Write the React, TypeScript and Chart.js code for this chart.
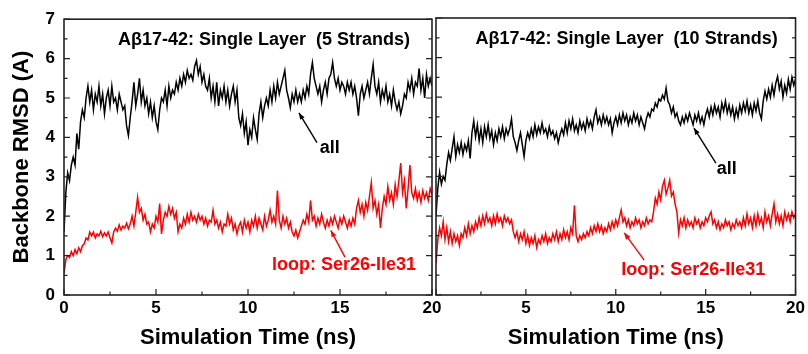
import React, { useEffect, useRef } from 'react';
import { Chart, registerables } from 'chart.js';

Chart.register(...registerables);

// ---------- data ----------
const TIME_STEP = 0.1; // ns between samples
const X_TICKS = [0, 5, 10, 15, 20];
const Y_TICKS = [0, 1, 2, 3, 4, 5, 6, 7];

const LEFT_TITLE = 'A\u03B217-42: Single Layer  (5 Strands)';
const RIGHT_TITLE = 'A\u03B217-42: Single Layer  (10 Strands)';
const X_TITLE = 'Simulation Time (ns)';
const Y_TITLE = 'Backbone RMSD (A)';
const LABEL_ALL = 'all';
const LABEL_LOOP = 'loop: Ser26-Ile31';

// 5 strands, all backbone
const LEFT_ALL = [
  1.6, 2.6, 3.1, 2.9, 3.3, 3.5, 3.3, 4.1, 3.7, 4.4,
  4.7, 4.5, 5.0, 5.3, 4.9, 5.2, 4.7, 5.1, 4.9, 5.3,
  4.8, 5.1, 4.6, 5.0, 5.2, 4.8, 5.3, 4.9, 5.0, 4.7,
  5.1, 4.9, 4.7, 4.8, 4.3, 4.05, 4.5, 4.9, 5.4, 4.8,
  5.1, 5.5, 4.9, 5.2, 4.8, 5.0, 4.6, 4.9, 4.5, 4.8,
  4.4, 4.2, 4.7, 5.0, 4.9, 5.2, 4.8, 5.3, 5.0, 5.2,
  5.1, 5.4, 5.2, 5.5, 5.3, 5.6, 5.4, 5.7, 5.5, 5.6,
  5.45, 5.8, 5.95, 5.6, 5.8, 5.4, 5.6, 5.3, 5.2, 5.5,
  5.0, 5.3, 4.9, 5.4, 4.8, 5.2, 5.0, 5.3, 4.9, 5.2,
  4.8, 5.1, 5.3, 4.9, 5.2, 4.5, 4.3, 4.6, 4.1, 4.4,
  3.8, 4.2, 4.0, 4.5, 4.2, 3.95, 4.6, 4.9, 4.5, 4.8,
  5.0, 4.8, 5.2, 4.9, 5.3, 5.0, 5.4, 5.1, 5.3, 5.5,
  5.7, 5.2, 5.0, 4.75, 5.1, 4.9, 5.2, 4.9, 5.1, 4.9,
  5.2, 5.0, 5.3, 5.1, 5.6, 5.9, 5.5, 5.3, 5.1, 5.3,
  4.9, 5.2, 5.4, 5.1, 5.5, 5.6, 5.9, 5.5, 5.3, 5.5,
  5.2, 5.4, 5.3, 5.1, 5.4, 5.2, 5.4, 5.1, 5.3, 5.0,
  4.55, 5.1, 5.3, 5.0, 5.2, 5.4, 5.1, 5.5, 5.85, 5.3,
  5.1, 5.4, 4.9, 5.2, 5.0, 5.3, 4.9, 5.1, 4.8, 5.2,
  4.9, 4.7, 4.9, 4.6, 4.8, 5.1, 5.0, 5.4, 5.2, 5.5,
  5.1, 5.4, 5.3, 5.75, 5.2, 5.5, 5.0, 5.6, 5.3, 5.5,
  5.3,
];

// 5 strands, loop Ser26-Ile31
const LEFT_LOOP = [
  0.55, 0.9, 1.0, 0.95, 1.1, 1.0, 1.15, 1.05, 1.2, 1.1,
  1.25, 1.3, 1.45, 1.4, 1.6, 1.5, 1.6, 1.45, 1.55, 1.5,
  1.62, 1.48, 1.58, 1.5, 1.6, 1.45, 1.32, 1.6, 1.7, 1.62,
  1.78, 1.65, 1.75, 1.7, 1.82, 1.68, 1.8, 2.0, 1.75, 2.1,
  2.48, 2.1, 2.2, 1.9, 2.05, 1.8, 1.85, 1.6, 1.8, 1.7,
  2.0, 1.85, 2.32, 1.55, 1.9, 2.1, 2.0, 2.25, 2.05, 2.2,
  1.95, 2.1, 1.6, 1.8, 1.7, 1.95, 1.8, 2.05, 1.85, 2.1,
  1.9, 2.0, 1.85, 2.05, 1.9, 2.0, 1.8, 1.95, 1.75, 1.9,
  1.85, 2.15, 1.8, 1.9, 1.7, 1.85, 1.6, 1.8, 1.75, 2.05,
  1.8, 1.95, 1.65, 1.8, 1.55, 1.75, 1.85, 1.6, 1.9, 1.7,
  1.85, 1.6, 1.9, 1.75, 2.0, 1.7, 1.95, 1.8, 1.65, 2.0,
  1.75, 1.9, 2.15, 1.85, 2.0, 1.8, 2.65, 1.9, 1.7, 2.0,
  1.8, 1.95, 1.7, 1.85, 1.6, 1.5, 1.65, 1.45, 1.6, 1.75,
  1.9, 1.8, 2.05, 1.85, 2.4, 1.9, 2.0, 1.75, 1.95, 1.8,
  2.05, 1.85, 1.7, 1.9, 1.75, 1.95, 1.8, 2.0, 1.85, 1.7,
  1.95, 1.8, 2.0, 1.85, 1.7, 1.9, 1.75, 1.95, 1.8, 2.2,
  2.4, 2.1, 2.3, 2.0, 2.35, 2.15, 2.5, 2.85, 2.2, 2.4,
  2.05, 2.3, 1.7, 2.2, 2.5, 2.3, 2.75, 2.4, 2.6, 2.3,
  2.8, 2.5, 2.9, 3.35, 2.6, 2.9, 2.2, 2.7, 3.3, 2.6,
  2.45, 2.7, 2.4, 2.6, 2.35, 2.65, 2.45, 2.6, 2.4, 2.7,
  2.55,
];

// 10 strands, all backbone
const RIGHT_ALL = [
  2.0, 2.7, 3.1, 2.8, 3.0, 2.9, 3.3, 3.6, 3.4, 3.7,
  4.0, 3.5, 3.8, 3.6, 3.85, 3.55, 3.8, 3.65, 3.9, 3.45,
  4.1, 4.4, 4.0, 4.3, 3.9, 4.2, 3.85, 4.25, 4.0, 4.3,
  3.95, 4.15, 3.8, 4.1, 3.9, 4.2, 4.0, 4.25, 3.95, 4.2,
  4.05, 4.2, 4.45, 4.0, 3.85, 3.65, 3.9, 4.1, 3.8, 3.5,
  3.9, 4.1, 3.95, 4.2, 4.0, 4.3, 4.05, 4.25, 4.1, 4.35,
  4.1, 4.2, 4.0, 4.25, 4.05, 4.15, 3.95, 4.1, 3.85, 4.05,
  4.2, 4.05, 4.35, 4.1, 4.4, 4.2, 4.45, 4.15, 4.3, 4.1,
  4.4, 4.2, 4.35, 4.15, 4.45, 4.25, 4.4, 4.2, 4.5, 4.68,
  4.35, 4.5, 4.3, 4.55, 4.35, 4.5, 4.3, 4.45, 4.1, 4.35,
  4.5, 4.3, 4.55, 4.35, 4.6, 4.4, 4.55, 4.3, 4.5, 4.35,
  4.6, 4.4, 4.55, 4.3, 4.5, 4.35, 4.2, 4.45, 4.6, 4.5,
  4.7, 4.65, 4.85, 4.75, 4.95, 4.9, 5.05, 4.95, 5.23, 4.9,
  4.8, 4.6, 4.75, 4.5, 4.6, 4.4, 4.3, 4.5, 4.35, 4.55,
  4.4, 4.6, 4.45, 4.3, 4.55, 4.4, 4.6, 4.35, 4.5, 4.3,
  4.55, 4.7, 4.5, 4.75, 4.55, 4.8, 4.6, 4.75, 4.5, 4.85,
  4.65, 4.9, 4.6, 4.8, 4.55, 4.75, 4.45, 4.7, 4.5, 4.8,
  4.6, 4.85, 4.65, 4.9, 4.6, 4.8, 4.55, 4.85, 4.65, 4.9,
  4.6, 4.45, 4.9, 5.15, 4.95, 5.2, 5.0, 5.3, 5.05, 5.35,
  5.52, 5.2, 5.4, 5.0, 5.3, 5.1, 5.45, 5.2, 5.5, 5.3,
  5.45,
];

// 10 strands, loop Ser26-Ile31
const RIGHT_LOOP = [
  0.8, 1.4, 1.7, 1.5, 1.85, 1.4, 1.7, 1.35, 1.6, 1.3,
  1.55, 1.35, 1.5, 1.25, 1.55, 1.45, 1.7, 1.5, 1.8, 1.55,
  1.75, 1.6, 1.85, 1.7, 1.95, 1.75, 2.0, 1.8, 2.05, 1.85,
  1.95, 1.75, 2.0, 1.8, 2.05, 1.85, 1.95, 1.75, 2.0, 1.85,
  1.95, 1.8, 1.9, 1.6, 1.45, 1.6, 1.35, 1.55, 1.4, 1.6,
  1.3, 1.5, 1.25, 1.45, 1.3, 1.5, 1.2, 1.4, 1.3, 1.5,
  1.35, 1.55, 1.3, 1.45, 1.35, 1.55, 1.4, 1.6, 1.35, 1.55,
  1.4, 1.65, 1.45, 1.6, 1.4, 1.7, 1.55, 2.27, 1.5, 1.35,
  1.5, 1.4, 1.55, 1.45, 1.6, 1.5, 1.7, 1.55, 1.75, 1.6,
  1.8, 1.6, 1.75, 1.55, 1.7, 1.6, 1.8, 1.65, 1.85, 1.7,
  1.9, 1.75, 1.95, 2.15, 1.85, 1.95, 1.75, 1.9, 1.7, 1.85,
  1.75, 1.95, 1.8, 1.9, 1.7, 1.85, 1.75, 1.95, 1.8, 1.9,
  1.85, 2.1, 2.45, 2.3, 2.6, 2.4, 2.75, 2.9, 2.55, 2.7,
  2.9, 2.5, 2.6, 2.3, 2.1, 1.57, 1.9, 1.75, 1.95, 1.7,
  1.9, 1.75, 1.85, 1.7, 1.95, 1.8, 1.9, 1.7, 1.85, 1.75,
  1.95, 1.85, 2.0, 2.1, 1.8, 1.9, 1.7, 1.85, 1.65, 1.8,
  1.7, 1.9, 1.75, 1.85, 1.65, 1.8, 1.7, 1.9, 1.75, 1.85,
  1.7, 1.95, 1.75, 2.05, 1.8, 1.95, 1.7, 2.0, 1.75, 2.05,
  1.8, 1.95, 1.7, 2.1, 1.85, 2.0, 1.75, 2.05, 2.3, 1.85,
  2.05, 1.8, 2.0, 1.75, 2.1, 1.9, 2.05, 1.85, 2.1, 1.95,
  2.05,
];

// ---------- styling ----------
const FONT = '"Liberation Sans", Arial, Helvetica, sans-serif';
const BLACK = '#000000';
const RED = '#ff0000';
const FRAME = '#222222';

type Annot = { text: string; color: string; tip: [number, number]; tail: [number, number]; at: [number, number] };

const toPoints = (arr: number[]) => arr.map((v, i) => ({ x: +(i * TIME_STEP).toFixed(2), y: v }));

const decorPlugin = {
  id: 'decor',
  afterDatasetsDraw(chart: any, _args: any, opts: any) {
    const { ctx, chartArea: a, scales } = chart;
    const xs = scales.x;
    const ys = scales.y;
    ctx.save();
    // frame
    ctx.strokeStyle = FRAME;
    ctx.lineWidth = 1.6;
    ctx.strokeRect(a.left, a.top, a.right - a.left, a.bottom - a.top);
    // inward ticks
    ctx.lineWidth = 1.2;
    ctx.beginPath();
    for (let i = 0; i < Y_TICKS.length; i++) {
      const py = ys.getPixelForValue(Y_TICKS[i]);
      ctx.moveTo(a.left, py); ctx.lineTo(a.left + 6, py);
      ctx.moveTo(a.right, py); ctx.lineTo(a.right - 6, py);
      if (i < Y_TICKS.length - 1) {
        const pm = ys.getPixelForValue((Y_TICKS[i] + Y_TICKS[i + 1]) / 2);
        ctx.moveTo(a.left, pm); ctx.lineTo(a.left + 3.5, pm);
        ctx.moveTo(a.right, pm); ctx.lineTo(a.right - 3.5, pm);
      }
    }
    for (let i = 0; i < X_TICKS.length; i++) {
      const px = xs.getPixelForValue(X_TICKS[i]);
      ctx.moveTo(px, a.bottom); ctx.lineTo(px, a.bottom - 6);
      if (i < X_TICKS.length - 1) {
        const pm = xs.getPixelForValue((X_TICKS[i] + X_TICKS[i + 1]) / 2);
        ctx.moveTo(pm, a.bottom); ctx.lineTo(pm, a.bottom - 3.5);
      }
    }
    ctx.stroke();

    // panel title
    ctx.font = `bold 18px ${FONT}`;
    ctx.fillStyle = BLACK;
    ctx.textAlign = 'left';
    ctx.textBaseline = 'middle';
    ctx.fillText(opts.title, xs.getPixelForValue(opts.titleAt[0]), ys.getPixelForValue(opts.titleAt[1]));

    // annotations
    (opts.annots as Annot[]).forEach((an) => {
      const x1 = xs.getPixelForValue(an.tip[0]);
      const y1 = ys.getPixelForValue(an.tip[1]);
      const x2 = xs.getPixelForValue(an.tail[0]);
      const y2 = ys.getPixelForValue(an.tail[1]);
      ctx.strokeStyle = an.color;
      ctx.fillStyle = an.color;
      ctx.lineWidth = 1.4;
      ctx.beginPath();
      ctx.moveTo(x1, y1);
      ctx.lineTo(x2, y2);
      ctx.stroke();
      const ang = Math.atan2(y2 - y1, x2 - x1);
      const hl = 7, hw = 0.38;
      ctx.beginPath();
      ctx.moveTo(x1, y1);
      ctx.lineTo(x1 + hl * Math.cos(ang - hw), y1 + hl * Math.sin(ang - hw));
      ctx.lineTo(x1 + hl * Math.cos(ang + hw), y1 + hl * Math.sin(ang + hw));
      ctx.closePath();
      ctx.fill();
      ctx.font = `bold 18px ${FONT}`;
      ctx.textAlign = 'left';
      ctx.textBaseline = 'middle';
      ctx.fillText(an.text, xs.getPixelForValue(an.at[0]), ys.getPixelForValue(an.at[1]));
    });
    ctx.restore();
  },
};

type PanelProps = {
  all: number[];
  loop: number[];
  title: string;
  titleAt: [number, number];
  annots: Annot[];
  showY: boolean;
  yWidth: number;
  padRight: number;
  hideZero: boolean;
  left: number;
  width: number;
};

function Panel(p: PanelProps) {
  const ref = useRef<HTMLCanvasElement | null>(null);
  useEffect(() => {
    if (!ref.current) return;
    const tickFont = { family: FONT, size: 17, weight: 'bold' as const };
    const titleFont = { family: FONT, size: 22, weight: 'bold' as const };
    const chart = new Chart(ref.current, {
      type: 'line',
      data: {
        datasets: [
          { data: toPoints(p.all), borderColor: BLACK, borderWidth: 1.5, pointRadius: 0, tension: 0, fill: false },
          { data: toPoints(p.loop), borderColor: RED, borderWidth: 1.5, pointRadius: 0, tension: 0, fill: false },
        ],
      },
      plugins: [decorPlugin],
      options: {
        animation: false,
        responsive: false,
        maintainAspectRatio: false,
        events: [],
        layout: { padding: { top: 18, right: p.padRight, bottom: 0, left: 0 } },
        plugins: {
          legend: { display: false },
          tooltip: { enabled: false },
          decor: { title: p.title, titleAt: p.titleAt, annots: p.annots },
        } as any,
        scales: {
          x: {
            type: 'linear',
            min: 0,
            max: 20,
            afterBuildTicks: (s: any) => { s.ticks = X_TICKS.map((v) => ({ value: v })); },
            ticks: {
              autoSkip: false,
              maxRotation: 0,
              padding: 3,
              color: BLACK,
              font: tickFont,
              callback: (v: any) => (p.hideZero && Number(v) === 0 ? '' : String(v)),
            },
            grid: { display: false, drawTicks: false },
            border: { display: false },
            title: { display: true, text: X_TITLE, color: BLACK, font: titleFont, padding: { top: 0, bottom: 3 } },
            afterFit: (s: any) => { s.height = 59; },
          },
          y: {
            type: 'linear',
            min: 0,
            max: 7,
            afterBuildTicks: (s: any) => { s.ticks = Y_TICKS.map((v) => ({ value: v })); },
            ticks: { display: p.showY, padding: 9, color: BLACK, font: tickFont },
            grid: { display: false, drawTicks: false },
            border: { display: false },
            title: { display: p.showY, text: Y_TITLE, color: BLACK, font: titleFont, padding: { top: 9, bottom: 0 } },
            afterFit: (s: any) => { s.width = p.yWidth; },
          },
        },
      } as any,
    });
    return () => chart.destroy();
  }, []);
  return (
    <canvas
      ref={ref}
      width={p.width}
      height={354}
      style={{ position: 'absolute', left: p.left, top: 0, width: p.width, height: 354 }}
    />
  );
}

export default function App() {
  return (
    <div style={{ position: 'fixed', left: 0, top: 0, width: 808, height: 354, background: '#ffffff', overflow: 'hidden' }}>
      <Panel
        all={LEFT_ALL}
        loop={LEFT_LOOP}
        title={LEFT_TITLE}
        titleAt={[2.93, 6.48]}
        annots={[
          { text: LABEL_ALL, color: BLACK, tip: [12.77, 4.62], tail: [13.75, 3.87], at: [13.9, 3.74] },
          { text: LABEL_LOOP, color: RED, tip: [14.5, 1.64], tail: [15.27, 0.96], at: [11.3, 0.76] },
        ]}
        showY={true}
        yWidth={64}
        padRight={18}
        hideZero={false}
        left={0}
        width={450}
      />
      <Panel
        all={RIGHT_ALL}
        loop={RIGHT_LOOP}
        title={RIGHT_TITLE}
        titleAt={[2.2, 6.48]}
        annots={[
          { text: LABEL_ALL, color: BLACK, tip: [14.35, 4.22], tail: [15.57, 3.33], at: [15.62, 3.18] },
          { text: LABEL_LOOP, color: RED, tip: [10.47, 1.57], tail: [11.58, 0.88], at: [10.3, 0.63] },
        ]}
        showY={false}
        yWidth={16}
        padRight={11}
        hideZero={true}
        left={420}
        width={388}
      />
    </div>
  );
}
